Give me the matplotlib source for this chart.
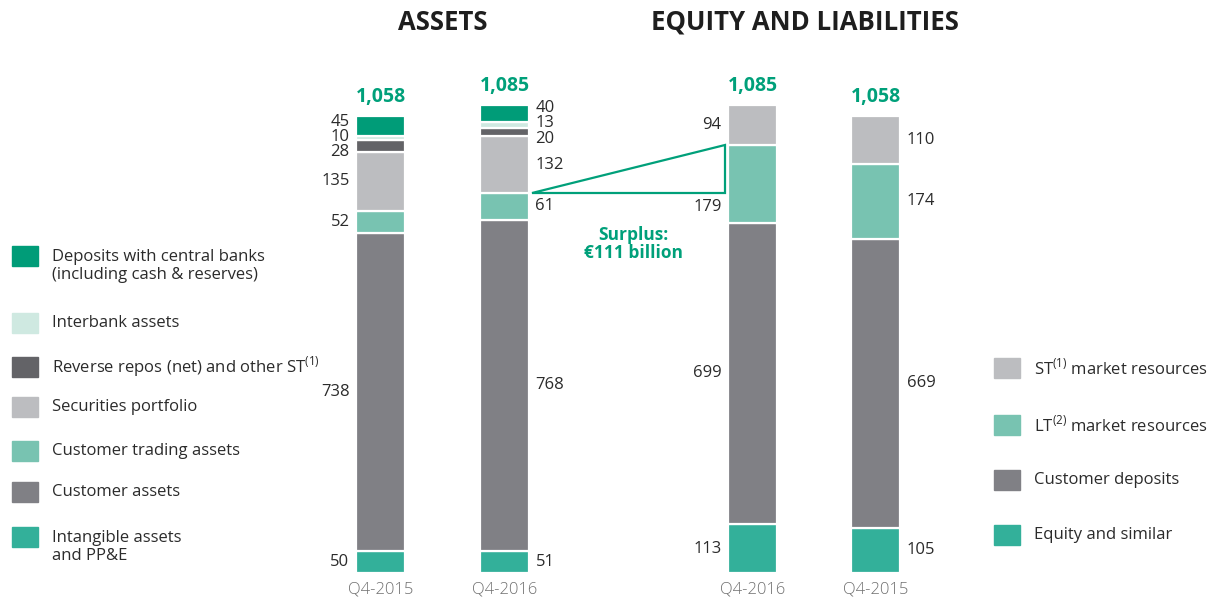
import matplotlib.pyplot as plt
from matplotlib.patches import Polygon

plt.rcParams['font.family'] = ['Open Sans', 'DejaVu Sans']
plt.rcParams['mathtext.fontset'] = 'custom'
plt.rcParams['mathtext.rm'] = 'Open Sans'

# balance sheet, EUR billion, segments listed bottom to top
asset_names = ['Intangible assets\nand PP&E', 'Customer assets', 'Customer trading assets',
               'Securities portfolio', r'Reverse repos (net) and other ST$^{\mathrm{(1)}}$',
               'Interbank assets', 'Deposits with central banks\n(including cash & reserves)']
assets_q4_2015 = [50, 738, 52, 135, 28, 10, 45]
assets_q4_2016 = [51, 768, 61, 132, 20, 13, 40]

liab_names = ['Equity and similar', 'Customer deposits',
              r'LT$^{\mathrm{(2)}}$ market resources', r'ST$^{\mathrm{(1)}}$ market resources']
liab_q4_2016 = [113, 699, 179, 94]
liab_q4_2015 = [105, 669, 174, 110]

periods = ['Q4-2015', 'Q4-2016', 'Q4-2016', 'Q4-2015']
surplus = 111

asset_colors = ['#33b09a', '#808085', '#78c3b1', '#bcbdc0', '#636367', '#cfe9e1', '#009c78']
liab_colors = ['#33b09a', '#808085', '#78c3b1', '#bcbdc0']
green = '#00a07a'
text_col = '#2b2b2b'

px = 0.4315          # pixels per billion
base = 573           # pixel row of the zero line
fig = plt.figure(figsize=(12.15, 5.97), dpi=100)
ax = fig.add_axes([0, 0, 1, 1])
ax.set_xlim(0, 1215)
ax.set_ylim(-(597 - base) / px, base / px)
ax.axis('off')


def to_val(ypix):
    return (base - ypix) / px


def spread(centers, gap):
    # push overlapping labels apart, keeping each group centred on its segments
    groups = [[i] for i in sorted(range(len(centers)), key=lambda i: centers[i])]
    pos = {}
    while True:
        for g in groups:
            m = sum(centers[i] for i in g) / len(g)
            for k, i in enumerate(g):
                pos[i] = m + (k - (len(g) - 1) / 2) * gap
        merged = False
        for a in range(len(groups) - 1):
            if pos[groups[a + 1][0]] - pos[groups[a][-1]] < gap - 1e-6:
                groups[a] = groups[a] + groups.pop(a + 1)
                merged = True
                break
        if not merged:
            return [pos[i] for i in range(len(centers))]


def stack(xc, vals, colors, side, ceiling=None):
    bottom = 0
    centers = []
    for v, c in zip(vals, colors):
        ax.bar(xc, v, width=49, bottom=bottom, color=c, edgecolor='white', linewidth=1.6)
        centers.append(bottom + v / 2)
        bottom += v
    ys = spread(centers, 35)
    for v, y in zip(vals, ys):
        if ceiling is not None and y > ceiling[0] and y - v / 2 < ceiling[0]:
            y = ceiling[0] - ceiling[1]
        if side == 'left':
            ax.text(xc - 31, y, str(v), ha='right', va='center', fontsize=12, color=text_col)
        else:
            ax.text(xc + 31, y, str(v), ha='left', va='center', fontsize=12, color=text_col)
    ax.text(xc, bottom + 44, f'{bottom:,}', ha='center', va='center', fontsize=14,
            fontweight='bold', color=green)
    return bottom


# liquidity surplus wedge between customer trading assets and LT funding
low = sum(assets_q4_2016[:3])
high = low + surplus

centres = [380.5, 504.5, 752.5, 875.5]
stack(centres[0], assets_q4_2015, asset_colors, 'left')
stack(centres[1], assets_q4_2016, asset_colors, 'right')
stack(centres[2], liab_q4_2016, liab_colors, 'left', ceiling=(low, 32))
stack(centres[3], liab_q4_2015, liab_colors, 'right')

for xc, p in zip(centres, periods):
    ax.text(xc, to_val(589), p, ha='center', va='center', fontsize=12, color='#707070',
            fontweight='light')

ax.text(443, to_val(22), 'ASSETS', ha='center', va='center', fontsize=18.5,
        fontweight='bold', color='#1e1e1e')
ax.text(805, to_val(22), 'EQUITY AND LIABILITIES', ha='center', va='center', fontsize=18.5,
        fontweight='bold', color='#1e1e1e')

tri = Polygon([[centres[1] + 27, low], [centres[2] - 28, low], [centres[2] - 28, high]],
              closed=True, facecolor='white', edgecolor=green, linewidth=1.6)
ax.add_patch(tri)
ax.text(633, to_val(244), 'Surplus:\n€111 billion', ha='center', va='center', fontsize=12.5,
        fontweight='bold', color=green, linespacing=0.95)

# legends
left_rows = [537, 492, 451, 407, 367, 323, 256]
for name, c, yr in zip(asset_names, asset_colors, left_rows):
    ax.add_patch(plt.Rectangle((12, to_val(yr + 10)), 26, 20 / px, color=c))
    va_y = yr + 10 if '\n' in name else yr
    ax.text(52, to_val(va_y), name, ha='left', va='center', fontsize=12,
            color=text_col, linespacing=1.15)

right_rows = [535, 480, 425, 368]
for name, c, yr in zip(liab_names, liab_colors, right_rows):
    ax.add_patch(plt.Rectangle((994, to_val(yr + 10)), 26, 20 / px, color=c))
    ax.text(1034, to_val(yr), name, ha='left', va='center', fontsize=12, color=text_col)

fig.savefig('out.png', dpi=100)
